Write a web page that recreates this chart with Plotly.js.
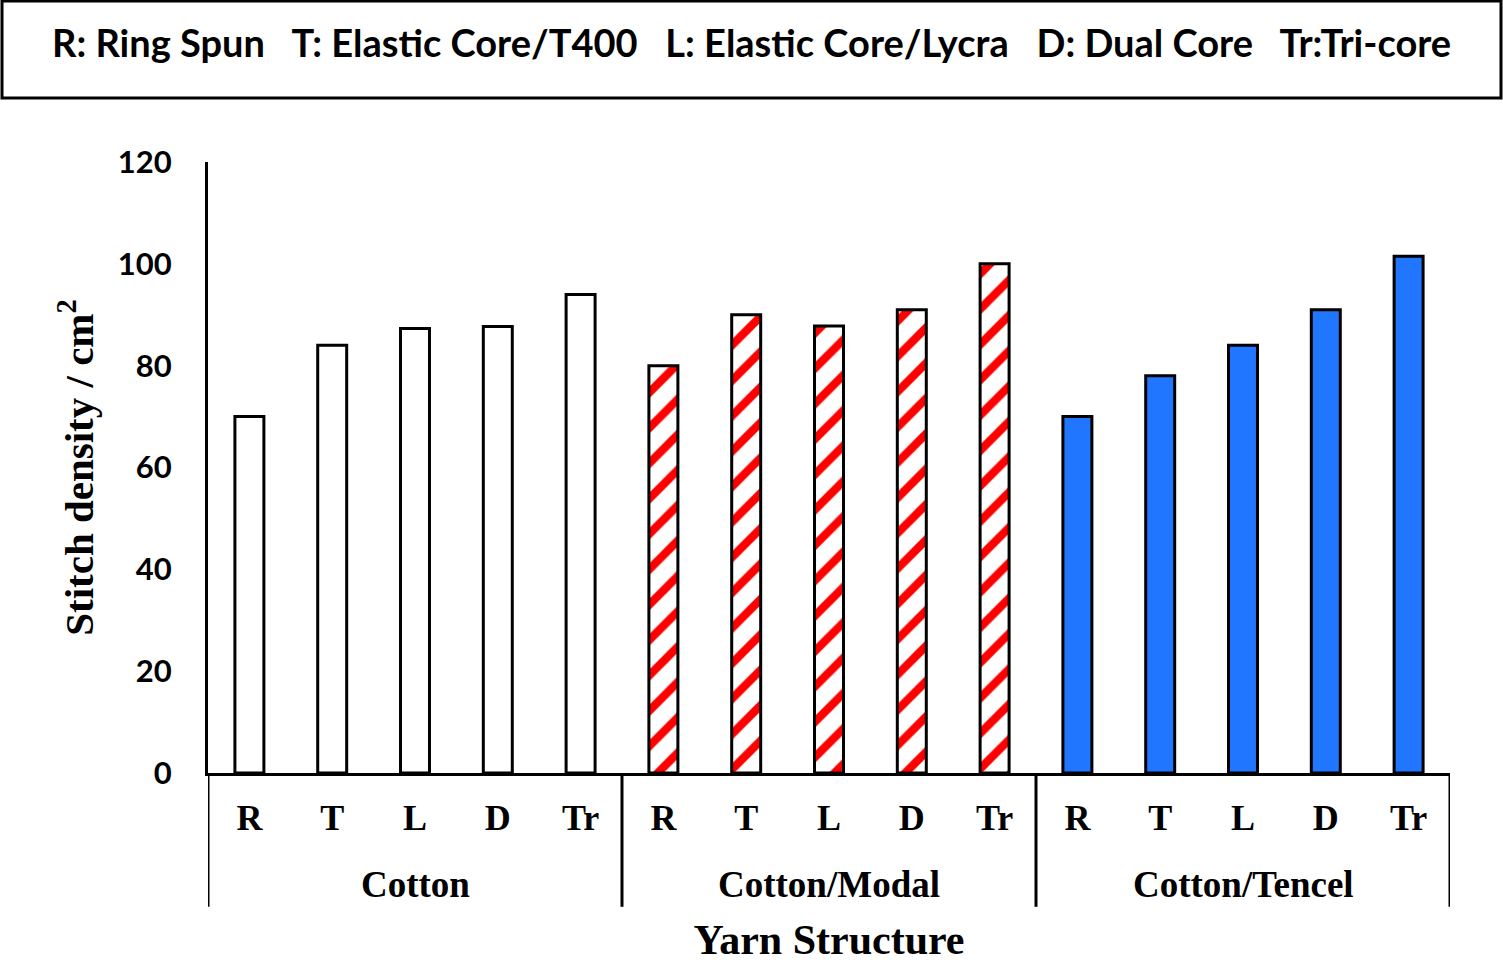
<!DOCTYPE html>
<html>
<head>
<meta charset="utf-8">
<script src="https://cdn.plot.ly/plotly-3.0.1.min.js"></script>
<style>
  html, body { margin: 0; padding: 0; background: #fff; }
  #chart { width: 1503px; height: 963px; }
</style>
</head>
<body>
<div id="chart"></div>
<script>
// Yarn fibre groups and yarn structures
const GROUPS     = ['Cotton', 'Cotton/Modal', 'Cotton/Tencel'];
const STRUCTURES = ['R', 'T', 'L', 'D', 'Tr'];

// Stitch density per cm2
const COTTON_VALUES = [70, 84, 87.3, 87.7, 94];
const MODAL_VALUES  = [80, 90, 87.8, 91, 100];
const TENCEL_VALUES = [70, 78, 84, 91, 101.5];

const Y_TICKS = [0, 20, 40, 60, 80, 100, 120];

const LEGEND_TEXT = ['R: Ring Spun', 'T: Elastic Core/T400', 'L: Elastic Core/Lycra',
                     'D: Dual Core', 'Tr:Tri-core'];

const SERIF = 'Liberation Serif, Times New Roman, serif';
const SANS  = 'Lato, Carlito, Calibri, sans-serif';

const N = STRUCTURES.length;

// Each group occupies N consecutive slots on a linear x axis
function slots(g) { return STRUCTURES.map((_, i) => g * N + i); }

function groupTrace(g, values, marker) {
  return {
    type: 'bar',
    x: slots(g),
    y: values,
    width: 0.35,
    marker: Object.assign({ line: { color: '#000', width: 3 } }, marker),
    customdata: STRUCTURES.map(s => GROUPS[g] + ' ' + s),
    hovertemplate: '%{customdata}: %{y}<extra></extra>',
    showlegend: false,
  };
}

const traces = [
  groupTrace(0, COTTON_VALUES, { color: '#ffffff' }),
  groupTrace(1, MODAL_VALUES, {
    color: '#ffffff',
    pattern: { shape: '/', fgcolor: '#ff0000', bgcolor: '#ffffff', size: 25, solidity: 0.33 },
  }),
  groupTrace(2, TENCEL_VALUES, { color: '#2176ff' }),
];

// group labels and dividers under the axis
const groupAnnotations = GROUPS.map((name, g) => ({
  xref: 'x', yref: 'paper',
  x: g * N + (N - 1) / 2, y: -0.183,
  xanchor: 'center', yanchor: 'middle',
  showarrow: false,
  text: '<b>' + name + '</b>',
  font: { family: SERIF, size: 37, color: '#000' },
}));

const dividers = [];
for (let g = 0; g <= GROUPS.length; g++) {
  dividers.push({
    type: 'line', xref: 'x', yref: 'paper',
    x0: g * N - 0.5, x1: g * N - 0.5, y0: 0, y1: -0.219,
    line: { color: '#000', width: 3 },
  });
}

const gap = '\u00a0\u00a0\u00a0';

const layout = {
  width: 1503,
  height: 963,
  paper_bgcolor: '#fff',
  plot_bgcolor: '#fff',
  margin: { l: 208, r: 53, t: 162, b: 190 },
  barmode: 'overlay',
  showlegend: false,
  font: { family: SERIF, color: '#000' },
  xaxis: {
    range: [-0.5, GROUPS.length * N - 0.5],
    tickvals: GROUPS.flatMap((_, g) => slots(g)),
    ticktext: GROUPS.flatMap(() => STRUCTURES),
    showline: true,
    linecolor: '#000',
    linewidth: 3,
    ticks: '',
    showgrid: false,
    zeroline: false,
    ticklabelstandoff: 11,
    tickfont: { family: SERIF, size: 36, color: '#000', weight: 'bold' },
    title: { text: '<b>Yarn Structure</b>', font: { family: SERIF, size: 42, color: '#000' }, standoff: 88 },
  },
  yaxis: {
    range: [0, 120],
    tickvals: Y_TICKS,
    showline: true,
    linecolor: '#000',
    linewidth: 3,
    showgrid: false,
    zeroline: false,
    ticks: '',
    ticklabelstandoff: 27,
    tickfont: { family: SANS, size: 31, color: '#000', weight: 'bold' },
    title: { text: '<b>Stitch density / cm<sup>2</sup></b>', font: { family: SERIF, size: 41, color: '#000' }, standoff: 12 },
  },
  shapes: [{
    type: 'rect', xref: 'paper', yref: 'paper',
    x0: (2 - 208) / 1242, x1: (1501 - 208) / 1242, y0: (773 - 98) / 611, y1: (773 - 1) / 611,
    line: { color: '#000', width: 3 }, fillcolor: 'rgba(0,0,0,0)',
  }].concat(dividers),
  annotations: [{
    xref: 'paper', yref: 'paper',
    x: (751 - 208) / 1242, y: (773 - 42) / 611,
    xanchor: 'center', yanchor: 'middle',
    showarrow: false,
    text: '<b>' + LEGEND_TEXT.join(gap) + '</b>',
    font: { family: SANS, size: 38, color: '#000' },
  }].concat(groupAnnotations),
};

Plotly.newPlot('chart', traces, layout, { displayModeBar: false, staticPlot: true });
</script>
</body>
</html>
